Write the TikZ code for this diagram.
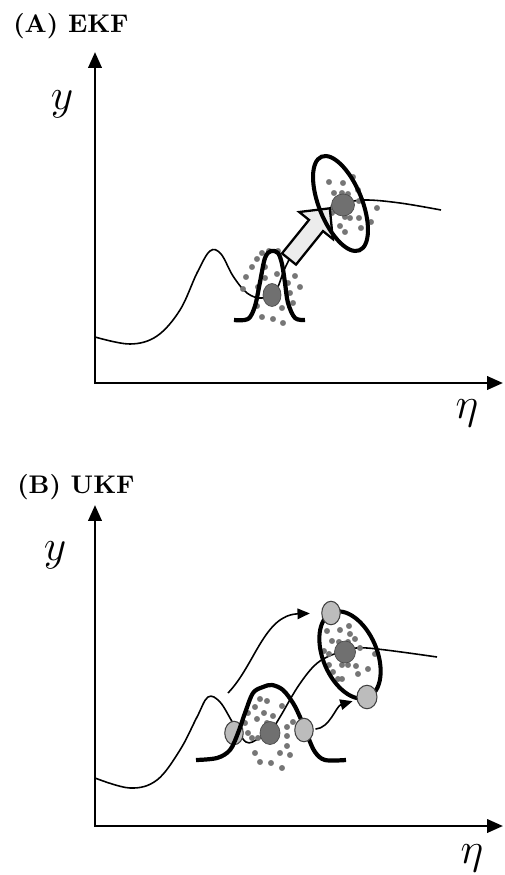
\documentclass[tikz,border=0pt]{standalone}
\usepackage{fontspec}
\usepackage{graphicx}
\usepackage{tikz}
\usetikzlibrary{arrows.meta,shapes.geometric}
\definecolor{cDot}{RGB}{118,118,118}
\definecolor{cMean}{RGB}{112,112,112}
\definecolor{cSigma}{RGB}{188,188,188}
\definecolor{cShift}{RGB}{236,236,236}

\begin{document}
\begin{tikzpicture}[x=0.02cm, y=-0.02cm,
  axis/.style={line width=1.6pt, {Triangle[length=9pt,width=7.5pt]}-{Triangle[length=9pt,width=7.5pt]}},
  fcurve/.style={line width=0.9pt},
  pdf/.style={line width=2.4pt, line join=round},
  covell/.style={ellipse, draw, line width=2.3pt, inner sep=0pt},
  meanpt/.style={ellipse, fill=cMean, draw=black!70, line width=0.4pt, inner sep=0pt,
    minimum width=0.4cm, minimum height=0.46cm},
  sigmapt/.style={ellipse, fill=cSigma, draw=black!75, line width=0.6pt, inner sep=0pt,
    minimum width=0.37cm, minimum height=0.47cm},
  sdot/.style={fill=cDot, draw=black!55, line width=0.25pt},
  flow/.style={line width=0.9pt, -{Triangle[length=7pt,width=6pt]}},
  ptitle/.style={anchor=base west, inner sep=0pt},
  lbl/.style={inner sep=0pt, font=\fontsize{24}{24}\selectfont}]

  \useasboundingbox (0,0) rectangle (504,875);

  % ======== (A) EKF ========
  \node[ptitle] (tA) at (13,33) {\scalebox{1.45}{\bfseries (A) EKF}};

  % ---- axes ----
  \coordinate (oA) at (95,383);
  \coordinate (yA) at (95,52);
  \coordinate (xA) at (503,383);
  \draw[axis] (yA) -- (oA) -- (xA);
  \node[lbl] (labyA) at (62,104) {$y$};
  \node[lbl] (labxA) at (467,413) {$\eta$};

  % ---- nonlinear map ----
  \draw[fcurve] plot[smooth, tension=0.6] coordinates {(95,337) (130,344) (157,336) (180,310)
    (197,273) (210,251) (221,254) (233,276) (247,293) (262,298) (276,290) (285,268)
    (300,240) (320,216) (343,204) (365,200) (400,203) (441,210)};

  % ---- samples (input / output) ----
  \foreach \px/\py in {262/253,269/251,278/251,257/259,265/267,252/267,277/274,295/276,
    246/277,265/278,288/283,300/287,258/287,290/293,243/289,293/303,257/306,282/308,
    262/317,273/319,283/323}
    \filldraw[sdot] (\px,\py) circle (2.7);
  \foreach \px/\py in {329/182,343/183,353/177,358/190,334/193,342/193,348/194,333/207,
    359/201,377/208,332/213,345/217,350/218,359/218,340/226,371/222,361/228,328/229,345/232}
    \filldraw[sdot] (\px,\py) circle (2.7);

  % ---- prior pdf ----
  \draw[pdf] plot[smooth, tension=0.55] coordinates {(234,320) (248,319) (255,306) (260,282)
    (265,258) (271,251) (278,253) (282,264) (285,283) (288,303) (295,318) (305,320)};
  \node[meanpt, minimum width=0.36cm] (mA) at (272,295) {};

  % ---- linearised propagation (block arrow) ----
  \filldraw[fill=cShift, draw=black, line width=1.3pt, line join=miter]
    (296.0,264.6) -- (323.0,231.1) -- (332.8,239.0) -- (329.8,208.3)
    -- (299.2,212.0) -- (309.0,219.9) -- (282.0,253.4) -- cycle;

  % ---- posterior covariance ----
  \node[covell, minimum width=2.02cm, minimum height=0.86cm, rotate=-68] (cA) at (340.5,203.5) {};
  \node[meanpt, minimum width=0.46cm, minimum height=0.44cm] (mA2) at (343,205) {};

  % ======== (B) UKF ========
  \node[ptitle] (tB) at (17,493) {\scalebox{1.45}{\bfseries (B) UKF}};

  % ---- axes ----
  \coordinate (oB) at (95,826);
  \coordinate (yB) at (95,505);
  \coordinate (xB) at (503,826);
  \draw[axis] (yB) -- (oB) -- (xB);
  \node[lbl] (labyB) at (55,555) {$y$};
  \node[lbl] (labxB) at (472,858) {$\eta$};

  % ---- nonlinear map ----
  \draw[fcurve] plot[smooth, tension=0.6] coordinates {(95,778) (130,788) (157,780) (180,750)
    (197,717) (208,697) (220,702) (233,723) (246,742) (258,739) (270,732) (280,717)
    (297,688) (313,667) (327,657) (345,651) (367,648) (437,657)};

  % ---- samples ----
  \foreach \px/\py in {260/699,267/701,282/706,255/707,264/713,248/713,273/716,257/719,
    245/723,267/723,287/727,293/722,248/733,287/736,252/738,258/738,287/746,255/753,
    280/753,290/755,260/762,271/763,282/768}
    \filldraw[sdot] (\px,\py) circle (2.7);
  \foreach \px/\py in {327/631,340/630,349/626,350/634,332/641,339/642,348/642,355/639,
    324/651,329/654,360/648,375/654,329/665,342/665,348/665,356/666,368/669,333/672,
    358/674,338/679,342/679}
    \filldraw[sdot] (\px,\py) circle (2.7);

  % ---- prior pdf + sigma points ----
  \node[sigmapt] (sL) at (234,733) {};
  \draw[pdf] plot[smooth, tension=0.55] coordinates {(196,760) (217,758) (230,750) (238,733)
    (245,713) (253,693) (263,687) (272,685) (283,690) (293,703) (300,717) (308,737)
    (315,752) (325,760) (346,760)};
  \node[sigmapt] (sR) at (304,730) {};
  \node[meanpt] (mB) at (270,733) {};

  % ---- posterior covariance + propagated sigma points ----
  \node[covell, minimum width=1.84cm, minimum height=1.08cm, rotate=-67] (cB) at (350,655) {};
  \node[meanpt, minimum width=0.42cm, minimum height=0.44cm] (mB2) at (345,652) {};
  \node[sigmapt] (sT) at (331,613) {};
  \node[sigmapt, minimum width=0.4cm] (sD) at (367,697) {};

  % ---- unscented transform arrows ----
  \coordinate (uStart) at (228,693);
  \draw[flow, shorten >=6.5pt] (uStart) .. controls +(27,-28) and +(-57,2) .. (sT.west);
  \draw[flow, shorten <=1pt, shorten >=2.5pt] (sR) .. controls (330,728) and (336,706) .. (sD);

\end{tikzpicture}
\end{document}
